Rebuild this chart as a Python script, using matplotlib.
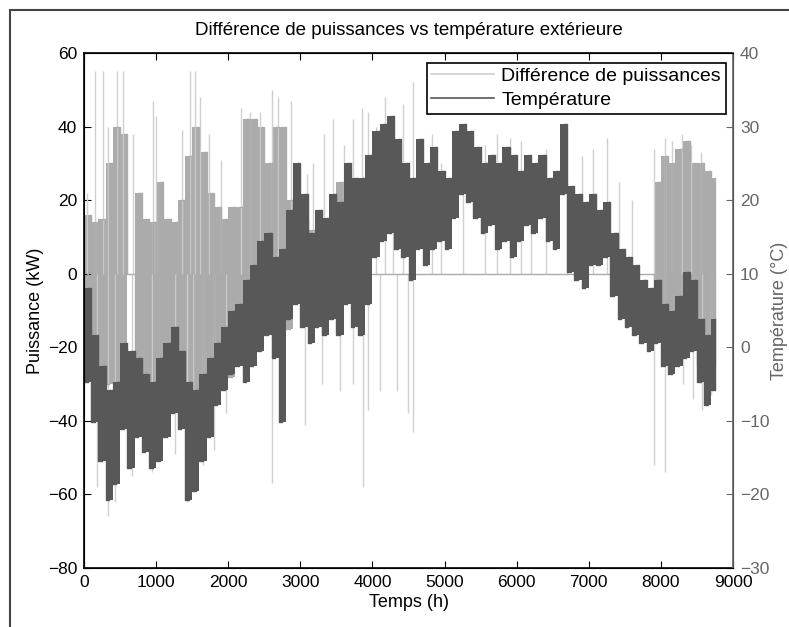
import numpy as np
import matplotlib.pyplot as plt
from matplotlib.patches import Rectangle

plt.rcParams['font.family'] = ['Liberation Sans', 'DejaVu Sans']

# Blocs de 100 h (début de bloc)
block_start = np.arange(0, 8800, 100)

# Différence de puissances (kW) : enveloppe dense par bloc
p_hi = [16, 14, 15, 30, 40, 38, 0, 22, 15, 14,
        25, 15, 14, 20, 32, 40, 33, 22, 18, 15,
        18, 18, 42, 42, 40, 30, 40, 40, 20, 10,
        15, 12, 15, 14, 18, 25, 15, 0, 0, 0,
        0, 0, 0, 0, 0, 0, 0, 0, 0, 0,
        0, 0, 0, 0, 0, 0, 0, 0, 0, 0,
        0, 0, 0, 0, 0, 0, 0, 0, 0, 0,
        0, 0, 0, 0, 0, 0, 0, 0, 0, 25,
        32, 30, 34, 36, 30, 30, 28, 26]
p_lo = [-12, -20, -25, -30, -38, -35, 0, -25, -28, -30,
        -28, -25, -25, -25, -35, -40, -42, -40, -35, -30,
        -28, -22, -18, -18, -12, -8, -5, -10, -15, -5,
        -8, -6, -8, -6, -8, -10, -5, 0, 0, 0,
        0, 0, 0, 0, 0, 0, 0, 0, 0, 0,
        0, 0, 0, 0, 0, 0, 0, 0, 0, 0,
        0, 0, 0, 0, 0, 0, 0, 0, 0, 0,
        0, 0, 0, 0, 0, 0, 0, 0, 0, -15,
        -15, -18, -18, -15, -20, -25, -28, -25]

# pics isolés de puissance (h, kW)
spike_up_h = [40, 150, 265, 330, 460, 540, 680, 960, 1000, 1360,
              1470, 1540, 1610, 1730, 1900, 2170, 2300, 2440, 2600, 2690,
              2870, 3090, 3180, 3330, 3450, 3600, 3730, 3860, 3940, 4050,
              4180, 4290, 4420, 4560, 4820, 4950, 5260, 5560, 5720, 5900,
              6060, 6200, 6410, 6700, 6900, 7060, 7250, 7420, 7600, 7897,
              8060, 8150, 8290, 8420, 8560]
spike_up_v = [22, 55, 55, 40, 55, 55, 38, 47, 43, 39,
              55, 55, 48, 38, 31, 45, 44, 44, 50, 48,
              47, 27, 30, 38, 42, 35, 42, 45, 44, 40,
              48, 36, 46, 52, 38, 30, 40, 35, 38, 37,
              36, 30, 34, 25, 32, 34, 37, 25, 20, 34,
              37, 36, 38, 35, 33]
spike_dn_h = [180, 335, 430, 660, 940, 1260, 1430, 1510, 1650, 1800,
              1970, 2600, 2760, 3065, 3300, 3550, 3730, 3870, 3940, 4100,
              4340, 4495, 4565, 7897, 8060, 8300, 8450, 8570, 8700]
spike_dn_v = [-58, -66, -62, -55, -54, -49, -62, -59, -52, -48,
              -38, -57, -40, -41, -30, -32, -30, -58, -37, -32,
              -32, -38, -43, -52, -54, -30, -34, -37, -33]

# Température extérieure (°C) : max / min par bloc
t_hi = [8.0, 1.7, -2.6, -5.8, -4.7, 0.6, -0.5, -1.5, -3.7, -4.7,
        -1.5, 0.6, 2.7, -0.5, -4.7, -5.8, -3.7, -1.5, 0.6, 2.7,
        4.9, 5.9, 9.1, 11.2, 14.4, 15.5, 12.3, 13.4, 18.7, 25.1,
        20.8, 15.5, 18.7, 17.6, 20.8, 19.8, 25.1, 23.0, 23.0, 26.2,
        29.4, 30.4, 31.5, 28.3, 25.1, 23.0, 28.3, 25.1, 27.2, 24.0,
        23.0, 29.4, 30.4, 29.4, 27.2, 25.1, 26.2, 25.1, 27.2, 26.2,
        24.0, 26.2, 25.1, 26.2, 23.0, 24.0, 30.4, 21.9, 20.8, 19.8,
        20.8, 18.7, 19.8, 15.5, 13.4, 12.3, 11.2, 9.1, 8.0, 9.1,
        5.9, 4.9, 7.0, 10.2, 9.1, 3.8, 1.7, 3.8]
t_lo = [-4.7, -10.1, -15.4, -20.7, -18.6, -11.1, -16.4, -12.2, -14.3, -16.4,
        -15.4, -12.2, -9.0, -11.1, -20.7, -19.6, -15.4, -12.2, -7.9, -5.8,
        -3.7, -2.6, -4.7, -2.6, -0.5, 1.7, -1.5, -10.1, 3.8, 5.9,
        2.7, 0.6, 2.7, 1.7, 3.8, 1.7, 5.9, 2.7, 1.7, 5.9,
        12.3, 14.4, 15.5, 13.4, 12.3, 9.1, 13.4, 11.2, 13.4, 14.4,
        13.4, 17.6, 20.8, 19.8, 17.6, 15.5, 16.6, 13.4, 14.4, 12.3,
        14.4, 16.6, 15.5, 17.6, 14.4, 13.4, 20.8, 10.2, 9.1, 8.0,
        11.2, 11.2, 12.3, 7.0, 3.8, 2.7, 1.7, 0.6, -0.5, 0.6,
        -2.6, -3.7, -2.6, -1.5, -0.5, -4.7, -7.9, -5.8]

c_p = '#ababab'
c_p_light = '#d0d0d0'
c_t = '#585858'

# créneaux bas/haut tous les 50 h
t = np.ravel(np.column_stack([block_start, block_start + 50]))
p = np.ravel(np.column_stack([p_lo, p_hi]))
temp = np.ravel(np.column_stack([t_lo, t_hi]))
t_edges = np.append(block_start, block_start[-1] + 60)

fig = plt.figure(figsize=(7.89, 6.27), dpi=100)
ax = fig.add_axes([0.1065, 0.0941, 0.8226, 0.8214])
ax2 = ax.twinx()

ax.vlines(spike_up_h, 0, spike_up_v, color=c_p_light, lw=1.0)
ax.vlines(spike_dn_h, spike_dn_v, 0, color=c_p_light, lw=1.0)
ax.fill_between(t_edges, np.append(p_lo, p_lo[-1]), np.append(p_hi, p_hi[-1]),
                step='post', color=c_p, lw=0)
l1, = ax.plot(t, p, color=c_p, lw=1.0, drawstyle='steps-post',
              label='Différence de puissances')

ax2.fill_between(t_edges, np.append(t_lo, t_lo[-1]), np.append(t_hi, t_hi[-1]),
                 step='post', color=c_t, lw=0)
l2, = ax2.plot(t, temp, color=c_t, lw=1.0, drawstyle='steps-post',
               label='Température')

ax.set_xlim(0, 9000)
ax.set_ylim(-80, 60)
ax2.set_ylim(-30, 40)
ax.set_xticks(range(0, 9001, 1000))
ax.set_yticks(range(-80, 61, 20))
ax2.set_yticks(range(-30, 41, 10))

ax.tick_params(direction='in', length=5, labelsize=12.5, top=True, right=False, pad=5)
ax2.tick_params(direction='in', length=5, labelsize=12.5, colors='#666666', pad=5)
ax2.spines['right'].set_color('#666666')
for s in ['left', 'bottom', 'top']:
    ax.spines[s].set_linewidth(1.2)
ax2.spines['right'].set_linewidth(1.2)

ax.set_xlabel('Temps (h)', fontsize=13, labelpad=3)
ax.set_ylabel('Puissance (kW)', fontsize=13, labelpad=3)
ax2.set_ylabel('Température (°C)', fontsize=13, color='#666666', labelpad=1)
ax.set_title('Différence de puissances vs température extérieure', fontsize=13.5, pad=13)

leg = ax2.legend(handles=[l1, l2], loc='upper right', bbox_to_anchor=(0.989, 0.981),
                 borderaxespad=0, fancybox=False, framealpha=1, edgecolor='black',
                 fontsize=14, handlelength=3.2, handletextpad=0.4, borderpad=0.25,
                 labelspacing=0.3)
leg.get_frame().set_linewidth(1.2)
leg.get_lines()[0].set_color(c_p_light)
for ln in leg.get_lines():
    ln.set_drawstyle('default')
    ln.set_linewidth(1.2)

# cadre de la figure
fig.patches.append(Rectangle((10 / 789, -0.1), 1.2, 1 - 10 / 627 + 0.1,
                             transform=fig.transFigure, fill=False,
                             edgecolor='#444444', lw=1.5))

fig.savefig('out.png', dpi=100)
